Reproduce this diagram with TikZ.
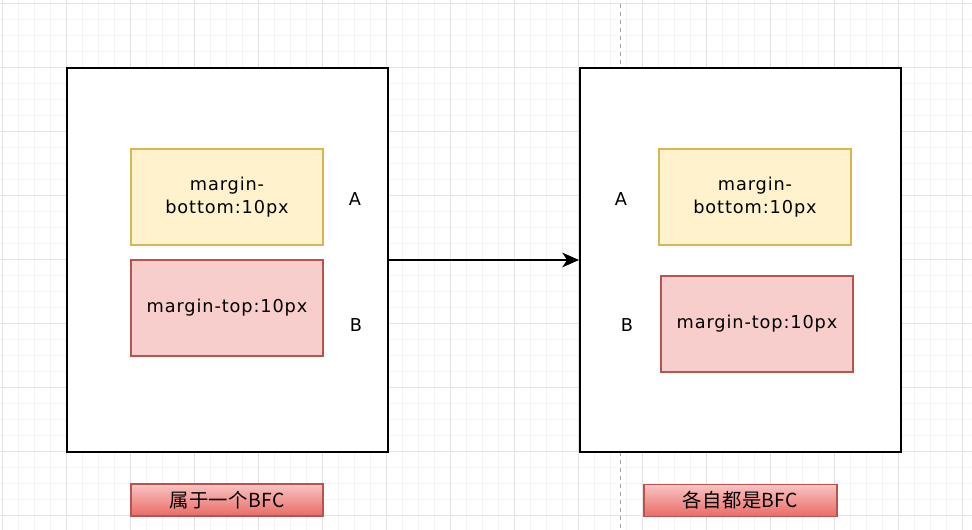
\documentclass[tikz,border=0pt]{standalone}
\usepackage{fontspec}
\setmainfont{DejaVu Sans}
\newfontfamily\boxfont{DejaVu Sans}[LetterSpace=5]
\newfontfamily\cjk{Noto Sans CJK SC}[LetterSpace=2]
\usetikzlibrary{arrows.meta}
\newlength\px
\setlength\px{0.75pt}
\definecolor{gridminor}{HTML}{F3F3F3}
\definecolor{gridmajor}{HTML}{E2E2E2}
\definecolor{yfill}{HTML}{FFF2CC}
\definecolor{ystroke}{HTML}{D6B656}
\definecolor{pfill}{HTML}{F8CECC}
\definecolor{pstroke}{HTML}{B85450}
\definecolor{gradtop}{HTML}{F8C4C2}
\definecolor{gradbot}{HTML}{EA6B66}
\definecolor{dashgray}{HTML}{A6A6A6}
\tikzset{
  bigbox/.style={draw=black, fill=white, line width=2\px, minimum width=321\px, minimum height=384\px, inner sep=0pt},
  ybox/.style={draw=ystroke, fill=yfill, line width=1.3\px, minimum width=192\px, minimum height=96\px, inner sep=0pt, align=center, font=\boxfont\fontsize{13.3}{17.25}\selectfont},
  pbox/.style={draw=pstroke, fill=pfill, line width=1.3\px, minimum width=192\px, minimum height=96\px, inner sep=0pt, align=center, font=\boxfont\fontsize{13.3}{17.25}\selectfont},
  letter/.style={inner sep=0pt, font=\fontsize{13.3}{15}\selectfont},
  tagbox/.style={draw=pstroke, top color=gradtop, bottom color=gradbot, line width=1.3\px, minimum width=192\px, minimum height=32\px, inner sep=0pt, font=\cjk\fontsize{14.5}{17}\selectfont},
  flow/.style={-{Stealth[length=12.5pt, width=11pt, inset=3.5pt]}, line width=1.1pt, black},
  divider/.style={draw=dashgray, line width=1.3\px, dash pattern=on 3pt off 3pt}
}
\begin{document}
\begin{tikzpicture}[x=0.75pt, y=-0.75pt]
\useasboundingbox (0,0) rectangle (972,530);
\fill[white] (0,0) rectangle (972,530);
% grid
\foreach \gx in {2,18,...,962} \draw[gridminor, line width=1\px] (\gx,0) -- (\gx,530);
\foreach \gy in {4,20,...,516} \draw[gridminor, line width=1\px] (0,\gy) -- (972,\gy);
\foreach \gx in {2,66,...,962} \draw[gridmajor, line width=1\px] (\gx,0) -- (\gx,530);
\foreach \gy in {4,68,...,516} \draw[gridmajor, line width=1\px] (0,\gy) -- (972,\gy);
% dashed divider
\coordinate (dtop) at (620.5,4);
\coordinate (dbot) at (620.5,530);
\draw[divider] (dtop) -- (dbot);
% big boxes
\node[bigbox] (lbig) at (227.5,260) {};
\node[bigbox] (rbig) at (740.5,260) {};
% inner boxes
\node[ybox] (ly) at (227,197) {margin-\\bottom:10px};
\node[pbox] (lp) at (227,308) {margin-top:10px};
\node[ybox] (ry) at (755,197) {margin-\\bottom:10px};
\node[pbox] (rp) at (757,324) {margin-top:10px};
% letters
\node[letter] (lA) at (355,199) {A};
\node[letter] (lB) at (356,325) {B};
\node[letter] (rA) at (621,199) {A};
\node[letter] (rB) at (627,325) {B};
% arrow
\draw[flow] (lbig.east) -- (rbig.west);
% bottom tags
\node[tagbox] (tag1) at (227,500) {属于一个BFC};
\node[tagbox, minimum width=193\px] (tag2) at (740.5,500.5) {各自都是BFC};
\end{tikzpicture}
\end{document}
